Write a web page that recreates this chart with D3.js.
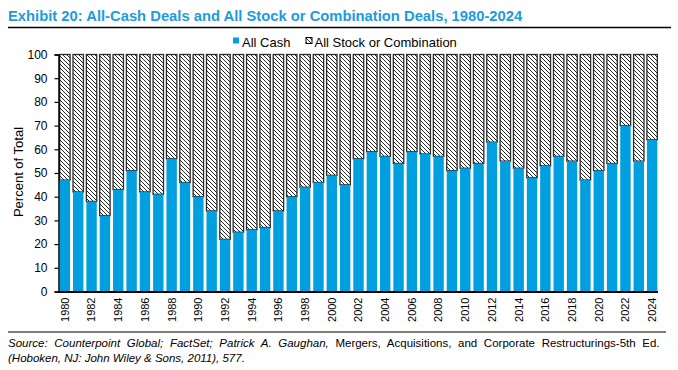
<!DOCTYPE html>
<html><head><meta charset="utf-8">
<script src="https://cdn.jsdelivr.net/npm/d3@7"></script>
<style>
html,body{margin:0;padding:0;background:#fff;}
svg{display:block;font-family:"Liberation Sans",Arial,sans-serif;}
</style></head>
<body>
<svg id="chart" width="678" height="370"></svg>
<script>
const years = d3.range(1980, 2025).map(String);
const allCash = [47,42,38,32,43,51,42,41,56,46,40,34,22,25,26,27,34,40,44,46,49,45,56,59,57,54,59,58,57,51,52,54,63,55,52,48,53,57,55,47,51,54,70,55,64];
const yTicks = [0,10,20,30,40,50,60,70,80,90,100];
const xTickLabels = years.filter(y => +y % 2 === 0);
const seriesNames = ["All Cash", "All Stock or Combination"];

const blue = "#009FE0";
const svg = d3.select("#chart");

const defs = svg.append("defs");
const pat = defs.append("pattern").attr("id","hatch").attr("patternUnits","userSpaceOnUse")
  .attr("width",4).attr("height",4);
pat.append("rect").attr("width",4).attr("height",4).attr("fill","#fff");
pat.append("path").attr("d","M-1,-1 L5,5 M-1,3 L1,5 M3,-1 L5,1").attr("stroke","#000").attr("stroke-width",0.85);

// Title
const title = svg.append("text").attr("x",8).attr("y",21)
  .attr("fill","#1C9BE0").attr("font-weight","bold").attr("font-size",15)
  .text("Exhibit 20: All-Cash Deals and All Stock or Combination Deals, 1980-2024");
{ const w = title.node().getComputedTextLength(); title.attr("font-size", 15*515/w); }
svg.append("line").attr("x1",8).attr("x2",671).attr("y1",27.5).attr("y2",27.5).attr("stroke","#000").attr("stroke-width",1.5);

// Scales
const x = d3.scaleBand().domain(years).range([59,658]).paddingInner(0.22).paddingOuter(0.05);
const y = d3.scaleLinear().domain([0,100]).range([291.5,54.5]);

const g = svg.append("g");
// stock/combination bars (hatched)
g.selectAll("rect.stock").data(years).join("rect").attr("class","stock")
  .attr("x", d => x(d)).attr("width", x.bandwidth())
  .attr("y", y(100)).attr("height", (d,i) => y(allCash[i]) - y(100))
  .attr("fill","url(#hatch)").attr("stroke","#2a2a2a").attr("stroke-width",1.3);
// cash bars
g.selectAll("rect.cash").data(years).join("rect").attr("class","cash")
  .attr("x", d => x(d)).attr("width", x.bandwidth())
  .attr("y", (d,i) => y(allCash[i])).attr("height", (d,i) => y(0) - y(allCash[i]))
  .attr("fill", blue);

// Y axis
const yAxis = svg.append("g").attr("transform","translate(58.5,0)")
  .call(d3.axisLeft(y).tickValues(yTicks).tickSize(4).tickPadding(7));
yAxis.select(".domain").attr("stroke","#000").attr("stroke-width",1.5);
yAxis.selectAll(".tick line").attr("stroke","#000").attr("stroke-width",1.2);
yAxis.selectAll(".tick text").attr("font-size",12).attr("fill","#000")
  .attr("font-family","Liberation Sans, Arial, sans-serif");

// X axis
const xAxis = svg.append("g").attr("transform","translate(0,291.5)")
  .call(d3.axisBottom(x).tickValues(xTickLabels).tickSize(0).tickPadding(0));
xAxis.select(".domain").remove();
svg.append("line").attr("x1",58).attr("x2",658).attr("y1",292).attr("y2",292).attr("stroke","#000").attr("stroke-width",2);
xAxis.selectAll(".tick text").attr("font-size",11).attr("fill","#000")
  .attr("font-family","Liberation Sans, Arial, sans-serif")
  .attr("transform","rotate(-90)").attr("text-anchor","end")
  .attr("x",-6).attr("y",0).attr("dy","0.35em");

// Y axis title
svg.append("text").attr("transform","translate(23,172) rotate(-90)")
  .attr("text-anchor","middle").attr("font-size",13).attr("fill","#000")
  .text("Percent of Total");

// Legend
const leg = svg.append("g");
leg.append("rect").attr("x",233).attr("y",37.5).attr("width",6).attr("height",6).attr("fill",blue);
leg.append("text").attr("x",242).attr("y",47).attr("font-size",13).attr("fill","#000").text(seriesNames[0]);
leg.append("rect").attr("x",306).attr("y",37.5).attr("width",6).attr("height",6).attr("fill","url(#hatch)").attr("stroke","#000").attr("stroke-width",1);
leg.append("text").attr("x",314.5).attr("y",47).attr("font-size",13).attr("fill","#000").text(seriesNames[1]);

// Source
svg.append("line").attr("x1",8).attr("x2",666).attr("y1",332).attr("y2",332).attr("stroke","#000").attr("stroke-width",1.2);
const s1 = svg.append("text").attr("x",8).attr("y",347).attr("font-size",11.5).attr("fill","#000");
s1.append("tspan").attr("font-style","italic").text("Source: Counterpoint Global; FactSet; Patrick A. Gaughan, ");
s1.append("tspan").text("Mergers, Acquisitions, and Corporate Restructurings-5th Ed.");
{ const w = s1.node().getComputedTextLength(); const words = 13; s1.attr("word-spacing", (655 - w)/ words); }
svg.append("text").attr("x",8).attr("y",361.5).attr("font-size",11.5).attr("fill","#000")
  .attr("font-style","italic").text("(Hoboken, NJ: John Wiley & Sons, 2011), 577.");
</script>
</body></html>
